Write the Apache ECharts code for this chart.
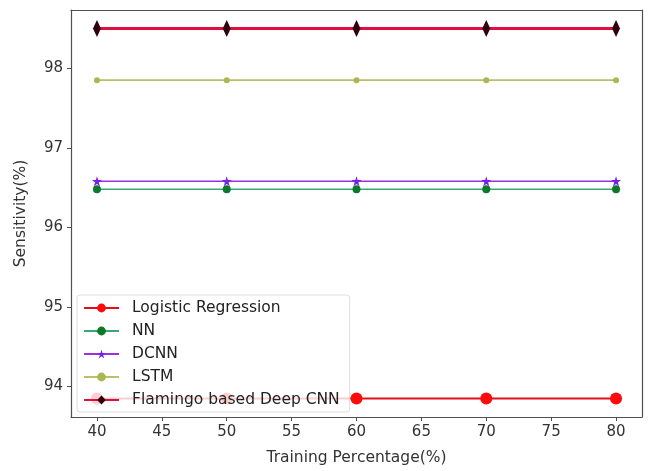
<!DOCTYPE html>
<html>
<head>
<meta charset="utf-8">
<script src="https://cdn.jsdelivr.net/npm/echarts@6/dist/echarts.min.js"></script>
<style>html,body{margin:0;padding:0;background:#fff}#c{width:649px;height:471px}</style>
</head>
<body>
<div id="c"></div>
<script>
var trainingPct = [40, 50, 60, 70, 80];
var logisticRegression = [93.85, 93.85, 93.85, 93.85, 93.85];
var nn = [96.48, 96.48, 96.48, 96.48, 96.48];
var dcnn = [96.58, 96.58, 96.58, 96.58, 96.58];
var lstm = [97.85, 97.85, 97.85, 97.85, 97.85];
var flamingo = [98.5, 98.5, 98.5, 98.5, 98.5];
var xTicks = [40, 45, 50, 55, 60, 65, 70, 75, 80];
var yTicks = [94, 95, 96, 97, 98];

function pairs(v){ return trainingPct.map(function(x,i){ return [x, v[i]]; }); }
var FONT = 'DejaVu Sans';
var STAR = 'path://M50,0 L61,35 L98,35 L68,57 L79,91 L50,70 L21,91 L32,57 L2,35 L39,35 Z';
var spine = {show:true, onZero:false, lineStyle:{color:'#505050', width:1.2}};

var chart = echarts.init(document.getElementById('c'));
chart.setOption({
  animation:false,
  backgroundColor:'#fff',
  grid:{left:71, right:7, top:10, bottom:52},
  xAxis:[{
    type:'value', min:38, max:82,
    axisLine:spine,
    axisTick:{show:true, length:4, inside:false, customValues:xTicks, lineStyle:{color:'#505050'}},
    axisLabel:{customValues:xTicks, color:'#333', fontFamily:FONT, fontSize:15, margin:8},
    splitLine:{show:false},
    name:'Training Percentage(%)', nameLocation:'middle', nameGap:33,
    nameTextStyle:{color:'#333', fontFamily:FONT, fontSize:15.5}
  },{
    type:'value', min:38, max:82, position:'top',
    axisLine:spine, axisTick:{show:false}, axisLabel:{show:false}, splitLine:{show:false}
  }],
  yAxis:[{
    type:'value', min:93.6175, max:98.7325,
    axisLine:spine,
    axisTick:{show:true, length:4, customValues:yTicks, lineStyle:{color:'#505050'}},
    axisLabel:{customValues:yTicks, color:'#333', fontFamily:FONT, fontSize:15, margin:8},
    splitLine:{show:false},
    name:'Sensitivity(%)', nameLocation:'middle', nameGap:42,
    nameTextStyle:{color:'#333', fontFamily:FONT, fontSize:15.5}
  },{
    type:'value', min:93.6175, max:98.7325, position:'right',
    axisLine:spine, axisTick:{show:false}, axisLabel:{show:false}, splitLine:{show:false}
  }],
  legend:{
    orient:'vertical', left:77, top:295,
    itemWidth:35, itemHeight:11, itemGap:5,
    backgroundColor:'rgba(255,255,255,0.8)', borderColor:'#ddd', borderWidth:1, borderRadius:3,
    padding:[4,10,3,6],
    textStyle:{color:'#222', fontFamily:FONT, fontSize:15.5, lineHeight:18, padding:[0,0,0,8]},
    data:['Logistic Regression','NN','DCNN','LSTM','Flamingo based Deep CNN']
  },
  series:[
    {name:'Logistic Regression', type:'line', data:pairs(logisticRegression),
      symbol:'circle', symbolSize:12,
      lineStyle:{color:'#e0101a', width:1.8}, itemStyle:{color:'#ff0a0a'}},
    {name:'NN', type:'line', data:pairs(nn),
      symbol:'circle', symbolSize:8,
      lineStyle:{color:'#3aa876', width:1.5}, itemStyle:{color:'#0a7a2a'}},
    {name:'DCNN', type:'line', data:pairs(dcnn),
      symbol:STAR, symbolSize:10,
      lineStyle:{color:'#9b30e0', width:1.5}, itemStyle:{color:'#7a20e8'}},
    {name:'LSTM', type:'line', data:pairs(lstm),
      symbol:'circle', symbolSize:6,
      lineStyle:{color:'#bcbf6a', width:1.8}, itemStyle:{color:'#a9b850'}},
    {name:'Flamingo based Deep CNN', type:'line', data:pairs(flamingo),
      symbol:'diamond', symbolSize:[8,17],
      lineStyle:{color:'#e0103e', width:2.8}, itemStyle:{color:'#300010'}}
  ]
});
</script>
</body>
</html>
